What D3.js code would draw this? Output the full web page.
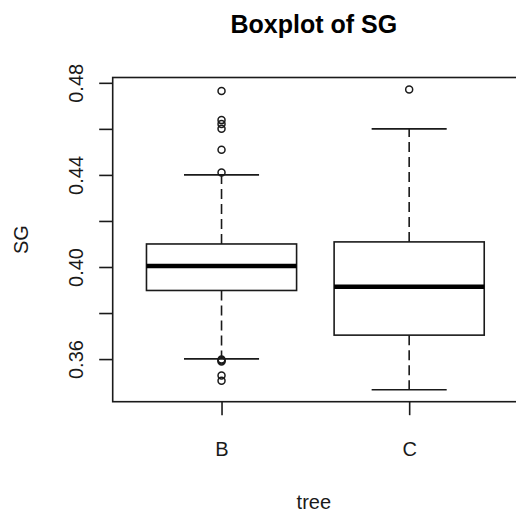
<!DOCTYPE html>
<html>
<head>
<meta charset="utf-8">
<script src="https://cdn.jsdelivr.net/npm/d3@7"></script>
<style>
  body { margin: 0; background: #fff; }
  svg { display: block; font-family: 'Liberation Sans', Arial, sans-serif; }
</style>
</head>
<body>
<svg id="chart" width="516" height="513"></svg>
<script>
// values
var categories = ['B', 'C']
var whiskerLow = [0.3601, 0.3467]
var q1 = [0.3898, 0.3704]
var median = [0.4004, 0.3914]
var q3 = [0.4100, 0.4109]
var whiskerHigh = [0.4400, 0.4600]
var outliers = [
  [0.4764, 0.4638, 0.4621, 0.4601, 0.4509, 0.4410, 0.3598, 0.3594, 0.3590, 0.3529, 0.3506],
  [0.4771]
]
var yTicks = [0.36, 0.38, 0.40, 0.42, 0.44, 0.46, 0.48]
var yLabelled = [0.36, 0.40, 0.44, 0.48]

var svg = d3.select('#chart')
  , plotLeft = 112.7
  , plotRight = 518
  , plotTop = 77.5
  , plotBottom = 401.7
  , ink = '#1a1a1a'

// R style: 4% padding round the data range
var all = d3.merge([whiskerLow, whiskerHigh].concat(outliers))
  , ext = d3.extent(all)
  , pad = (ext[1] - ext[0]) * 0.04

var y = d3.scaleLinear().domain([ext[0] - pad, ext[1] + pad]).range([plotBottom, plotTop])
var x = d3.scaleLinear().domain([0.42, categories.length + 0.58]).range([plotLeft, plotRight])

var data = categories.map(function (c, i) {
  return { name: c, i: i + 1, lo: whiskerLow[i], q1: q1[i], med: median[i], q3: q3[i], hi: whiskerHigh[i], out: outliers[i] }
})

var g = svg.append('g')

var boxes = g.selectAll('.box')
  .data(data)
  .enter()
  .append('g')
  .attr('class', 'box')

//whiskers, box, median and outliers
boxes.each(function (d) {
  var self = d3.select(this)
    , cx = x(d.i)
  self.append('line')
    .attr('x1', cx).attr('x2', cx)
    .attr('y1', y(d.q3)).attr('y2', y(d.hi))
    .attr('stroke', ink).attr('stroke-width', 1.6).attr('stroke-dasharray', '10,5')
  self.append('line')
    .attr('x1', cx).attr('x2', cx)
    .attr('y1', y(d.q1)).attr('y2', y(d.lo))
    .attr('stroke', ink).attr('stroke-width', 1.6).attr('stroke-dasharray', '10,5')
  ;[d.hi, d.lo].forEach(function (v) {
    self.append('line')
      .attr('x1', x(d.i - 0.2)).attr('x2', x(d.i + 0.2))
      .attr('y1', y(v)).attr('y2', y(v))
      .attr('stroke', ink).attr('stroke-width', 1.6)
  })
  self.append('rect')
    .attr('x', x(d.i - 0.4))
    .attr('width', x(d.i + 0.4) - x(d.i - 0.4))
    .attr('y', y(d.q3))
    .attr('height', y(d.q1) - y(d.q3))
    .attr('fill', 'none').attr('stroke', ink).attr('stroke-width', 1.6)
  self.append('line')
    .attr('x1', x(d.i - 0.4)).attr('x2', x(d.i + 0.4))
    .attr('y1', y(d.med)).attr('y2', y(d.med))
    .attr('stroke', '#000').attr('stroke-width', 4.6)
  self.selectAll('circle')
    .data(d.out)
    .enter()
    .append('circle')
    .attr('cx', cx)
    .attr('cy', function (v) { return y(v) })
    .attr('r', 3.5)
    .attr('fill', 'none').attr('stroke', ink).attr('stroke-width', 1.5)
})

// frame
g.append('rect')
  .attr('x', plotLeft).attr('y', plotTop)
  .attr('width', plotRight - plotLeft).attr('height', plotBottom - plotTop)
  .attr('fill', 'none').attr('stroke', ink).attr('stroke-width', 1.6)

// y axis
var yAxis = svg.append('g')
  .attr('transform', 'translate(' + plotLeft + ',0)')
  .call(d3.axisLeft(y).tickValues(yTicks).tickSize(13.5).tickFormat(function (d) {
    return yLabelled.some(function (v) { return Math.abs(v - d) < 1e-9 }) ? d3.format('.2f')(d) : ''
  }))
yAxis.select('.domain').remove()
yAxis.selectAll('line').attr('stroke', ink).attr('stroke-width', 1.6)
yAxis.selectAll('text')
  .attr('x', 0).attr('dy', 0)
  .attr('transform', 'translate(-30,0) rotate(-90)')
  .attr('text-anchor', 'middle')
  .attr('font-size', 20)
  .attr('font-family', 'Liberation Sans, Arial, sans-serif')
  .attr('fill', ink)

// x axis
var xAxis = svg.append('g')
  .attr('transform', 'translate(0,' + plotBottom + ')')
  .call(d3.axisBottom(x).tickValues(data.map(function (d) { return d.i })).tickSize(13.5).tickPadding(0)
    .tickFormat(function (d) { return categories[d - 1] }))
xAxis.select('.domain').remove()
xAxis.selectAll('line').attr('stroke', ink).attr('stroke-width', 1.6)
xAxis.selectAll('text')
  .attr('y', 54).attr('dy', 0)
  .attr('font-size', 20)
  .attr('font-family', 'Liberation Sans, Arial, sans-serif')
  .attr('fill', ink)

// titles
var mid = (plotLeft + plotRight) / 2
svg.append('text')
  .attr('x', mid - 1.5).attr('y', 33)
  .attr('text-anchor', 'middle')
  .attr('font-size', 25).attr('font-weight', 'bold')
  .text('Boxplot of SG')
svg.append('text')
  .attr('x', mid - 1.5).attr('y', 508.5)
  .attr('text-anchor', 'middle')
  .attr('font-size', 20).attr('fill', ink)
  .text('tree')
svg.append('text')
  .attr('transform', 'translate(28.3,' + ((plotTop + plotBottom) / 2) + ') rotate(-90)')
  .attr('text-anchor', 'middle')
  .attr('font-size', 20).attr('fill', ink)
  .text('SG')
</script>
</body>
</html>
